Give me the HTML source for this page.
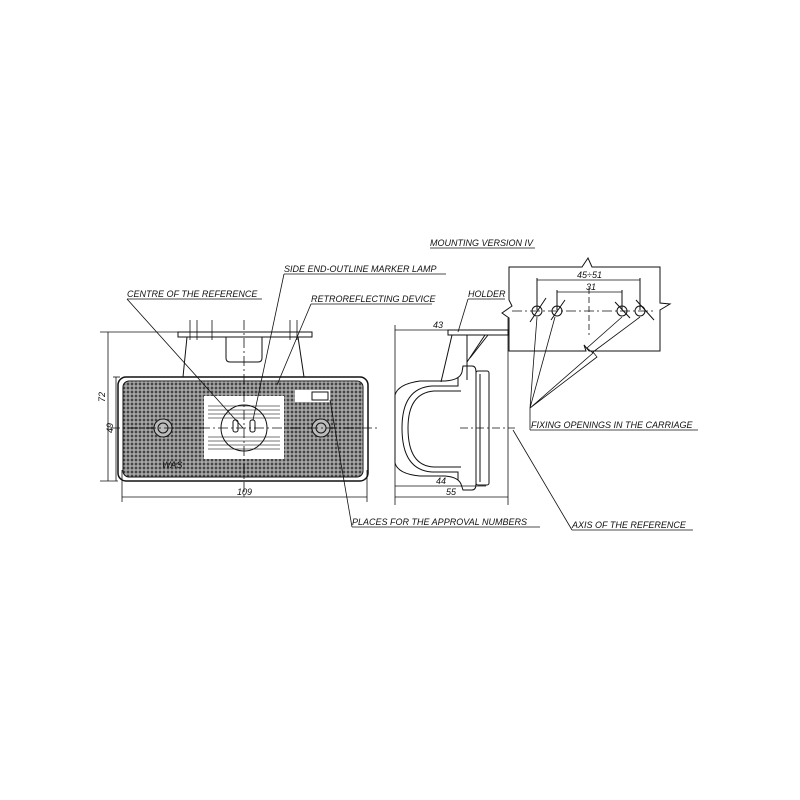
<!DOCTYPE html>
<html><head><meta charset="utf-8"><style>
html,body{margin:0;padding:0;background:#fff;}
svg{display:block;}
text{font-family:"Liberation Sans",sans-serif;font-style:italic;font-size:9px;fill:#111;}
</style></head><body>
<svg width="800" height="800" viewBox="0 0 800 800" xmlns="http://www.w3.org/2000/svg">
<defs>
<pattern id="mesh" width="4" height="4" patternUnits="userSpaceOnUse">
<rect width="4" height="4" fill="#a0a0a0"/>
<path d="M0 0L4 4M4 0L0 4" stroke="#333" stroke-width="0.8"/>
<circle cx="2" cy="2" r="0.9" fill="#eee"/>
</pattern>
</defs>
<g stroke="#111" fill="none" stroke-width="1">
<rect x="118" y="377" width="250" height="104" rx="8" stroke-width="1.5"/>
<rect x="123" y="381" width="240" height="96" rx="6" fill="url(#mesh)"/>
<rect x="204" y="396" width="80" height="63" fill="#fff" stroke="none"/>
<g stroke="#777" stroke-width="1">
<line x1="208" y1="406" x2="280" y2="406"/><line x1="208" y1="410" x2="280" y2="410"/><line x1="208" y1="414" x2="280" y2="414"/><line x1="208" y1="418" x2="280" y2="418"/>
<line x1="208" y1="437" x2="280" y2="437"/><line x1="208" y1="441" x2="280" y2="441"/><line x1="208" y1="445" x2="280" y2="445"/><line x1="208" y1="449" x2="280" y2="449"/>
</g>
<circle cx="244" cy="428" r="23"/>
<rect x="233" y="420" width="5" height="12" rx="2"/><rect x="250" y="420" width="5" height="12" rx="2"/>
<circle cx="163" cy="428" r="9" fill="#bbb"/><circle cx="163" cy="428" r="5"/>
<circle cx="321" cy="428" r="9" fill="#bbb"/><circle cx="321" cy="428" r="5"/>
<rect x="295" y="390" width="35" height="12" fill="#fff" stroke="none"/>
<rect x="312" y="392" width="16" height="8" fill="#fff"/>
<rect x="178" y="332" width="134" height="5"/>
<path d="M226 337 V358 Q226 362 230 362 H258 Q262 362 262 358 V337"/>
<line x1="187" y1="337" x2="183" y2="377"/><line x1="298" y1="337" x2="304" y2="377"/>
<g stroke-width="0.8"><line x1="190" y1="320" x2="190" y2="340"/><line x1="197" y1="320" x2="197" y2="340"/><line x1="212" y1="320" x2="212" y2="340"/><line x1="290" y1="320" x2="290" y2="340"/><line x1="297" y1="320" x2="297" y2="340"/></g>
<line x1="244" y1="320" x2="244" y2="500" stroke-dasharray="10 3 2 3" stroke-width="0.8"/>
<line x1="110" y1="428" x2="380" y2="428" stroke-dasharray="10 3 2 3" stroke-width="0.8"/>
<g stroke-width="0.8">
<line x1="100" y1="332" x2="178" y2="332"/><line x1="100" y1="481" x2="118" y2="481"/>
<line x1="108" y1="332" x2="108" y2="481"/>
<line x1="113" y1="377" x2="120" y2="377"/><line x1="116" y1="377" x2="116" y2="481"/>
<line x1="122" y1="470" x2="122" y2="502"/><line x1="367" y1="470" x2="367" y2="502"/>
<line x1="122" y1="497" x2="367" y2="497"/>
</g>
<path d="M395 395 Q398 384 420 381 H445 Q460 380 462 372 L463 366 H472 Q476 366 476 372 V484 Q476 490 472 490 H463 L461 484 Q458 477 445 476 H420 Q398 474 395 463 Z"/>
<path d="M458 378 V386 H432 Q402 388 402 428 Q402 470 432 472 H458 V480"/>
<path d="M461 391 H434 Q408 393 408 428 Q408 466 434 467 H461"/>
<rect x="476" y="371" width="13" height="114" rx="2"/>
<line x1="480" y1="374" x2="480" y2="482"/>
<rect x="448" y="330" width="60" height="5"/>
<line x1="452" y1="335" x2="441" y2="382"/><line x1="467" y1="335" x2="467" y2="380"/>
<line x1="488" y1="335" x2="470" y2="358"/><line x1="485" y1="335" x2="467" y2="362"/>
<g stroke-width="0.8">
<line x1="395" y1="325" x2="395" y2="505"/><line x1="508" y1="318" x2="508" y2="505"/>
<line x1="395" y1="330" x2="448" y2="330"/>
<line x1="395" y1="486" x2="486" y2="486"/><line x1="395" y1="497" x2="508" y2="497"/>
<line x1="460" y1="428" x2="515" y2="428" stroke-dasharray="8 3 2 3"/>
</g>
<path d="M509 267 H582 L588 258 L592 267 H660 V303 L670 304 L660 310 V351 H589 L584 345 L586 351 H509 V318 L502 313 L512 306 L509 300 Z"/>
<line x1="537" y1="280" x2="640" y2="280" stroke-width="0.8"/>
<line x1="557" y1="292" x2="622" y2="292" stroke-width="0.8"/>
<line x1="537" y1="278" x2="537" y2="310"/><line x1="640" y1="278" x2="640" y2="310"/>
<line x1="557" y1="290" x2="557" y2="310"/><line x1="622" y1="290" x2="622" y2="310"/>
<line x1="512" y1="311" x2="655" y2="311" stroke-dasharray="10 3 2 3" stroke-width="0.8"/>
<line x1="589" y1="288" x2="589" y2="335" stroke-dasharray="6 3" stroke-width="0.8"/>
<circle cx="537" cy="311" r="5"/><circle cx="557" cy="311" r="5"/><circle cx="622" cy="311" r="5"/><circle cx="640" cy="311" r="5"/>
<line x1="530" y1="322" x2="546" y2="298"/><line x1="551" y1="320" x2="565" y2="300"/>
<line x1="615" y1="302" x2="630" y2="318"/><line x1="636" y1="300" x2="654" y2="320"/>
<g stroke-width="0.8">
<path d="M530 408 L537 317 M530 408 L555 317 M530 408 L593 353 L587 348 L622 317 M530 408 L597 357 L593 352 L640 317"/>
<line x1="530" y1="430" x2="698" y2="430"/>
<line x1="127" y1="299" x2="262" y2="299"/><line x1="127" y1="299" x2="243" y2="428"/>
<line x1="284" y1="274" x2="446" y2="274"/><line x1="284" y1="274" x2="253" y2="420"/>
<line x1="311" y1="304" x2="432" y2="304"/><line x1="311" y1="304" x2="277" y2="385"/>
<line x1="468" y1="299" x2="505" y2="299"/><line x1="468" y1="299" x2="458" y2="332"/>
<line x1="430" y1="248" x2="535" y2="248"/>
<line x1="352" y1="527" x2="540" y2="527"/><line x1="352" y1="527" x2="330" y2="400"/>
<line x1="572" y1="530" x2="693" y2="530"/><line x1="572" y1="530" x2="513" y2="430"/>
<line x1="530" y1="408" x2="530" y2="430"/>
</g>
</g>
<text x="430" y="246">MOUNTING VERSION IV</text>
<text x="284" y="272">SIDE END-OUTLINE MARKER LAMP</text>
<text x="127" y="297">CENTRE OF THE REFERENCE</text>
<text x="311" y="302">RETROREFLECTING DEVICE</text>
<text x="468" y="297">HOLDER</text>
<text x="531" y="428">FIXING OPENINGS IN THE CARRIAGE</text>
<text x="352" y="525">PLACES FOR THE APPROVAL NUMBERS</text>
<text x="572" y="528">AXIS OF THE REFERENCE</text>
<text x="237" y="495" font-size="8">109</text>
<text x="433" y="328" font-size="8">43</text>
<text x="436" y="484" font-size="8">44</text>
<text x="446" y="495" font-size="8">55</text>
<text x="577" y="278" font-size="7">45÷51</text>
<text x="586" y="290" font-size="7">31</text>
<text x="105" y="402" font-size="8" transform="rotate(-90 105 402)">72</text>
<text x="113" y="433" font-size="8" transform="rotate(-90 113 433)">49</text>
<text x="162" y="468" font-size="8">WAS</text>
</svg>
</body></html>
